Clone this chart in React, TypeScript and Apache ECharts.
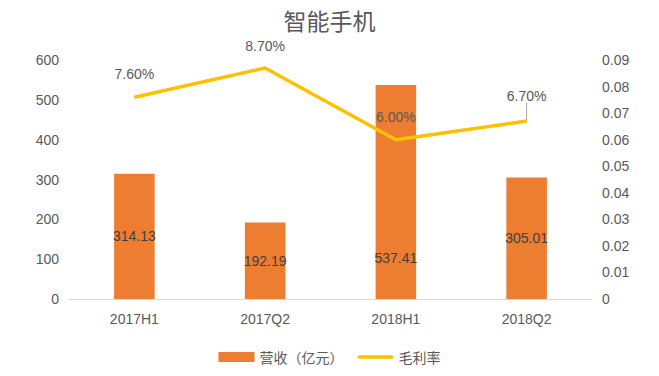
import React, { useEffect, useRef } from "react";
import * as echarts from "echarts";

const categories = ["2017H1", "2017Q2", "2018H1", "2018Q2"];
const revenue = [314.13, 192.19, 537.41, 305.01];
const margin = [0.076, 0.087, 0.06, 0.067];
const marginLabels = ["7.60%", "8.70%", "6.00%", "6.70%"];
const leftTicks = [0, 100, 200, 300, 400, 500, 600];
const rightTicks = [0, 0.01, 0.02, 0.03, 0.04, 0.05, 0.06, 0.07, 0.08, 0.09];

export default function App() {
  const ref = useRef<HTMLDivElement>(null);
  useEffect(() => {
    if (!ref.current) return;
    const chart = echarts.init(ref.current, undefined, { renderer: "svg" });
    const textColor = "#595959";
    const font = "'Liberation Sans', Arial, sans-serif";
    const lineDy = [-16, -14, -15, -18];
    chart.setOption({
      animation: false,
      title: {
        text: "智能手机",
        left: "center",
        top: 3,
        textStyle: { fontFamily: "'Noto Sans CJK SC', sans-serif", fontSize: 23, fontWeight: "normal", color: textColor },
      },
      grid: { left: 69, right: 67, top: 60, bottom: 77 },
      legend: {
        bottom: 7,
        left: "center",
        itemGap: 14,
        textStyle: { fontFamily: "'Noto Sans CJK SC', sans-serif", fontSize: 14, color: textColor },
        data: [
          { name: "营收（亿元）", icon: "rect", itemStyle: { color: "#ED7D31" } },
          { name: "毛利率", icon: "path://M2,3 L38,3 A2,2 0 0 1 38,7 L2,7 A2,2 0 0 1 2,3 Z", itemStyle: { color: "#FFC000" } },
        ],
        itemWidth: 36,
        itemHeight: 10,
      },
      xAxis: {
        type: "category",
        data: categories,
        axisLine: { lineStyle: { color: "#d9d9d9" } },
        axisTick: { show: false },
        axisLabel: { color: textColor, fontFamily: font, fontSize: 14, margin: 13 },
      },
      yAxis: [
        {
          type: "value",
          min: leftTicks[0],
          max: leftTicks[leftTicks.length - 1],
          interval: 100,
          splitLine: { show: false },
          axisLine: { show: false },
          axisTick: { show: false },
          axisLabel: { color: textColor, fontFamily: font, fontSize: 14, margin: 10 },
        },
        {
          type: "value",
          min: rightTicks[0],
          max: rightTicks[rightTicks.length - 1],
          interval: 0.01,
          splitLine: { show: false },
          axisLine: { show: false },
          axisTick: { show: false },
          axisLabel: {
            color: textColor,
            fontFamily: font,
            fontSize: 14,
            margin: 10,
            formatter: (v: number) => (v === 0 ? "0" : v.toFixed(2)),
          },
        },
      ],
      series: [
        {
          name: "营收（亿元）",
          type: "bar",
          barWidth: "31%",
          itemStyle: { color: "#ED7D31" },
          data: revenue.map((v, i) => ({
            value: v,
            label: i === 2 ? { offset: [0, 66] } : undefined,
          })),
          label: {
            show: true,
            position: "inside",
            color: "#404040",
            fontFamily: font,
            fontSize: 14,
            formatter: (p: any) => p.value.toFixed(2),
          },
        },
        {
          name: "毛利率",
          type: "line",
          yAxisIndex: 1,
          symbol: "circle",
          symbolSize: 1,
          lineStyle: { color: "#FFC000", width: 3.5 },
          itemStyle: { color: "#FFC000" },
          z: 3,
          data: margin.map((v, i) => ({
            value: v,
            labelLine: { show: i === 3, lineStyle: { color: "#a6a6a6", width: 1 } },
          })),
          label: {
            show: true,
            position: "top",
            distance: 0,
            color: textColor,
            fontFamily: font,
            fontSize: 14,
            formatter: (p: any) => marginLabels[p.dataIndex],
          },
          labelLine: { show: false, lineStyle: { color: "#a6a6a6", width: 1 } },
          labelLayout: (p: any) => ({ dy: lineDy[p.dataIndex] }),
        },
      ],
      graphic: [],
    });
    return () => chart.dispose();
  }, []);
  return <div ref={ref} style={{ width: 659, height: 376, margin: -8 }} />;
}
